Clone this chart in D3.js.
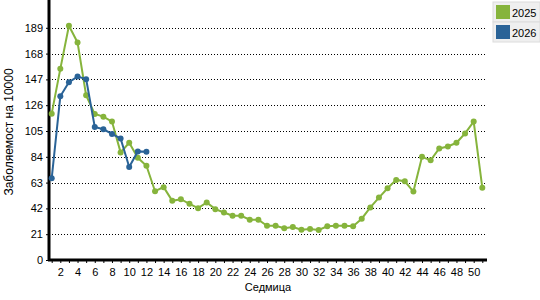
<!DOCTYPE html>
<html>
<head>
<meta charset="utf-8">
<script src="https://cdn.jsdelivr.net/npm/d3@7"></script>
<style>
body{margin:0;background:#fff;}
svg{font-family:"Liberation Sans",Arial,sans-serif;}
</style>
</head>
<body>
<div id="chart"></div>
<script>
var weeks = d3.range(1, 52);
var yTicks = [0,21,42,63,84,105,126,147,168,189];
var series = ["2025", "2026"];
var colors = ["#86b43c", "#2a6397"];

var v2025 = [119.1,155.6,190.6,177.1,134.0,118.8,116.7,112.7,87.6,95.4,
  83.2,76.7,56.0,59.3,48.2,49.5,45.7,42.2,46.8,41.4,
  38.7,36.0,36.0,32.8,32.8,27.9,27.9,25.8,26.9,24.7,
  25.2,24.4,27.4,27.9,27.9,27.4,33.6,42.8,50.8,58.4,
  65.2,64.1,55.7,84.0,81.1,90.8,92.4,95.4,103.0,112.7,58.9];
var v2026 = [66.5,133.2,144.7,149.3,147.2,108.3,106.4,102.6,98.9,75.7,88.4,88.1];

var data = [v2025, v2026];

var W = 540, H = 300;
var plotLeft = 49, plotRight = 487, plotTop = 2, plotBottom = 260;

var svg = d3.select('#chart').append('svg')
  .attr('width', W).attr('height', H);

var x = d3.scalePoint().domain(weeks).range([51.7, 482.3]);
var y = d3.scaleLinear().domain([0, 210]).range([plotBottom, plotTop]);

// gridlines
svg.selectAll('line.grid')
  .data(yTicks.filter(function(d){return d > 0;}))
  .enter().append('line')
  .attr('class','grid')
  .attr('x1', plotLeft).attr('x2', plotRight)
  .attr('y1', function(d){return Math.round(y(d)) + 0.5;})
  .attr('y2', function(d){return Math.round(y(d)) + 0.5;})
  .attr('stroke', '#000')
  .attr('stroke-width', 1)
  .attr('stroke-dasharray', '1,2');

// y axis
var yAxis = svg.append('g')
  .attr('transform', 'translate(' + plotLeft + ',0)')
  .call(d3.axisLeft(y).tickValues(yTicks).tickSize(3).tickFormat(d3.format('d')));
yAxis.select('.domain').remove();
yAxis.selectAll('text').attr('font-size', 11).attr('fill', '#000')
  .attr('font-family', '"Liberation Sans",Arial,sans-serif');
yAxis.selectAll('line').attr('stroke', '#000');

// x axis
var xAxis = svg.append('g')
  .attr('transform', 'translate(0,' + plotBottom + ')')
  .call(d3.axisBottom(x).tickSize(3).tickFormat(function(d){return d % 2 == 0 ? d : '';}));
xAxis.select('.domain').remove();
xAxis.selectAll('text').attr('font-size', 11).attr('fill', '#000')
  .attr('font-family', '"Liberation Sans",Arial,sans-serif').attr('dy', '0.9em');
xAxis.selectAll('line').attr('stroke', '#000');

// axis lines
svg.append('line').attr('x1', plotLeft).attr('x2', plotLeft)
  .attr('y1', 0).attr('y2', plotBottom + 1)
  .attr('stroke', '#000').attr('stroke-width', 3);
svg.append('line').attr('x1', plotLeft - 1).attr('x2', plotRight)
  .attr('y1', plotBottom).attr('y2', plotBottom)
  .attr('stroke', '#000').attr('stroke-width', 3);

// lines
var line = d3.line()
  .x(function(d, i){return x(weeks[i]);})
  .y(function(d){return y(d);});

data.forEach(function(vals, k){
  svg.append('path')
    .datum(vals)
    .attr('d', line)
    .attr('fill', 'none')
    .attr('stroke', colors[k])
    .attr('stroke-width', 2);
  svg.selectAll('circle.s' + k)
    .data(vals)
    .enter().append('circle')
    .attr('class', 's' + k)
    .attr('cx', function(d, i){return x(weeks[i]);})
    .attr('cy', function(d){return y(d);})
    .attr('r', 3)
    .attr('fill', colors[k]);
});

// axis titles
svg.append('text')
  .attr('transform', 'translate(13,' + 132 + ') rotate(-90)')
  .attr('text-anchor', 'middle')
  .attr('font-size', 12)
  .text('Заболяемост на 10000');
svg.append('text')
  .attr('x', 268).attr('y', 291)
  .attr('text-anchor', 'middle')
  .attr('font-size', 11)
  .text('Седмица');

// legend
var legend = svg.selectAll('g.leg')
  .data(series)
  .enter().append('g')
  .attr('class', 'leg')
  .attr('transform', function(d, i){return 'translate(493,' + (2 + i * 20) + ')';});
legend.append('rect')
  .attr('width', 47).attr('height', 20)
  .attr('fill', '#efefef').attr('stroke', '#dcdcdc');
legend.append('rect')
  .attr('x', 3).attr('y', 3).attr('width', 14).attr('height', 14)
  .attr('fill', function(d, i){return colors[i];});
legend.append('text')
  .attr('x', 19).attr('y', 14.5)
  .attr('font-size', 11)
  .text(function(d){return d;});
</script>
</body>
</html>
